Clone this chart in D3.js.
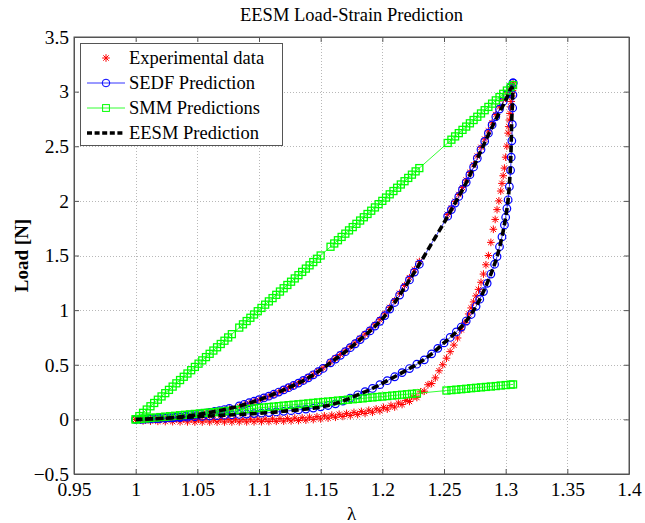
<!DOCTYPE html>
<html><head><meta charset="utf-8">
<script src="https://cdn.jsdelivr.net/npm/d3@7"></script>
<style>
body{margin:0;background:#fff}
svg{display:block}
text{font-family:"Liberation Serif","Times New Roman",serif;fill:#000}
</style>
</head><body>
<svg id="c" width="645" height="523"></svg>
<script>
// ---------------- data ----------------
const title = "EESM Load-Strain Prediction";
const xLabel = "λ";
const yLabel = "Load [N]";
const xTicks = [0.95,1,1.05,1.1,1.15,1.2,1.25,1.3,1.35,1.4];
const xTickLabels = ["0.95","1","1.05","1.1","1.15","1.2","1.25","1.3","1.35","1.4"];
const yTicks = [-0.5,0,0.5,1,1.5,2,2.5,3,3.5];
const yTickLabels = ["\u22120.5","0","0.5","1","1.5","2","2.5","3","3.5"];
const seriesNames = ["Experimental data","SEDF Prediction","SMM Predictions","EESM Prediction"];

// loading branch stretch values (experimental and SEDF)
const lamUp = [1.000,1.004,1.008,1.012,1.016,1.020,1.024,1.028,1.032,1.036,1.040,1.044,1.048,1.052,1.056,1.060,1.064,1.068,1.072,1.076,
  1.084,1.088,1.092,1.096,1.100,1.104,1.108,1.112,1.116,1.120,1.124,1.128,1.132,1.136,1.140,1.144,1.148,1.152,
  1.158,1.162,1.166,1.170,1.174,1.178,1.182,1.186,1.190,1.194,1.198,1.202,1.206,1.210,1.214,1.218,1.222,1.226,1.230,
  1.253,1.256,1.259,1.262,1.265,1.268,1.271,1.274,1.277,1.280,1.283,1.286,1.289,1.292,1.295,1.298,1.301,1.304,1.306];
const expUp = [0,-0.003,-0.004,-0.003,-0.002,0.000,0.003,0.006,0.010,0.014,0.019,0.025,0.032,0.039,0.047,0.055,0.064,0.073,0.083,0.094,
  0.118,0.132,0.147,0.162,0.177,0.194,0.211,0.229,0.249,0.270,0.291,0.312,0.335,0.359,0.384,0.412,0.441,0.471,
  0.525,0.560,0.594,0.628,0.665,0.700,0.740,0.780,0.822,0.866,0.912,0.965,1.025,1.087,1.155,1.225,1.297,1.370,1.445,
  1.875,1.935,1.995,2.058,2.122,2.190,2.260,2.330,2.410,2.490,2.565,2.640,2.715,2.790,2.860,2.930,2.990,3.045,3.080];
const sedfUp = [0,0.001,0.002,0.004,0.006,0.008,0.011,0.015,0.019,0.023,0.028,0.035,0.042,0.049,0.056,0.063,0.072,0.080,0.090,0.100,
  0.124,0.138,0.152,0.166,0.180,0.196,0.212,0.230,0.250,0.270,0.290,0.310,0.332,0.356,0.380,0.408,0.436,0.466,
  0.518,0.552,0.586,0.620,0.656,0.692,0.730,0.770,0.810,0.854,0.898,0.950,1.010,1.070,1.138,1.206,1.276,1.348,1.420,
  1.860,1.920,1.980,2.040,2.105,2.170,2.240,2.310,2.390,2.470,2.545,2.620,2.695,2.770,2.840,2.910,2.975,3.040,3.080];

// experimental unloading branch
const expLamDown = [1.000,1.003,1.006,1.009,1.012,1.015,1.018,1.021,1.024,1.027,1.030,1.033,1.036,1.039,1.042,1.045,1.048,1.051,1.054,1.057,
  1.060,1.063,1.066,1.069,1.072,1.075,1.078,1.081,1.084,1.087,1.090,1.093,1.096,1.099,1.102,1.105,1.108,1.111,1.114,1.117,
  1.120,1.123,1.126,1.129,1.132,1.135,1.138,1.141,1.144,1.147,1.150,1.153,1.156,1.159,1.162,1.165,1.168,1.171,1.174,1.177,
  1.180,1.183,1.186,1.189,1.192,1.195,1.198,1.201,1.204,1.207,1.210,1.213,1.216,1.219,1.222,1.225,1.228,1.231,1.234,1.237,1.240,
  1.243,1.246,1.249,1.252,1.255,1.258,1.261,1.264,1.267,1.270,1.272,1.274,1.276,1.278,1.280,1.282,1.284,1.286,1.288,1.290,
  1.2915,1.293,1.2945,1.296,1.297,1.298,1.299,1.300,1.301,1.302,1.3025,1.303,1.3035,1.304,1.3045,1.305,1.3055,1.306];
const expDown = [0,0.011,-0.014,0.009,-0.016,0.007,-0.018,0.005,-0.020,0.004,-0.021,0.003,-0.022,0.002,-0.023,0.001,-0.024,0.000,-0.024,0.000,
  -0.024,0.000,-0.024,0.000,-0.024,0.000,-0.024,0.001,-0.023,0.001,-0.023,0.002,-0.022,0.003,-0.021,0.004,-0.020,0.005,-0.018,0.007,
  -0.016,0.009,-0.014,0.012,-0.011,0.015,-0.007,0.020,-0.002,0.025,0.004,0.032,0.011,0.039,0.019,0.047,0.027,0.055,0.035,0.064,
  0.044,0.073,0.054,0.084,0.065,0.096,0.078,0.110,0.094,0.128,0.113,0.149,0.136,0.174,0.164,0.206,0.200,0.252,0.258,0.317,0.328,
  0.380,0.445,0.500,0.560,0.620,0.680,0.745,0.820,0.885,0.965,1.020,1.075,1.130,1.190,1.255,1.330,1.415,1.500,1.620,1.740,
  1.830,1.920,2.000,2.090,2.160,2.230,2.300,2.400,2.500,2.620,2.680,2.740,2.800,2.860,2.910,2.960,3.010,3.060];

// SEDF unloading branch
const lamDown = [1.000,1.006,1.012,1.018,1.024,1.030,1.036,1.042,1.048,1.054,1.060,1.066,1.072,1.078,1.084,1.090,1.096,1.102,1.108,1.114,
  1.120,1.126,1.132,1.138,1.144,1.150,1.156,1.162,1.168,1.174,1.180,1.186,1.192,1.198,1.204,1.210,1.216,1.222,1.228,1.234,
  1.240,1.245,1.250,1.255,1.260,1.264,1.268,1.272,1.276,1.279,1.282,1.285,1.288,1.291,1.293,1.295,1.297,1.299,1.300,1.301,
  1.302,1.303,1.304,1.3045,1.305,1.3054,1.3057,1.3059,1.306];
const sedfDown = [0,0.002,0.005,0.008,0.011,0.014,0.017,0.020,0.024,0.027,0.031,0.034,0.038,0.041,0.045,0.049,0.053,0.057,0.062,0.068,
  0.074,0.080,0.087,0.094,0.103,0.115,0.127,0.142,0.168,0.195,0.225,0.253,0.283,0.318,0.354,0.390,0.428,0.465,0.505,0.545,
  0.600,0.650,0.700,0.750,0.800,0.845,0.900,0.960,1.035,1.100,1.170,1.245,1.330,1.420,1.490,1.580,1.670,1.780,1.850,1.930,
  2.010,2.130,2.280,2.400,2.550,2.700,2.850,2.970,3.080];

// SMM loading branch
const smmLamUp = [1.000,1.003,1.006,1.009,1.012,1.015,1.018,1.021,1.024,1.027,1.030,1.033,1.036,1.039,1.042,1.045,1.048,1.051,1.054,1.057,
  1.060,1.063,1.066,1.069,1.072,1.075,1.078,
  1.084,1.087,1.090,1.093,1.096,1.099,1.102,1.105,1.108,1.111,1.114,1.117,1.120,1.123,1.126,1.129,1.132,1.135,1.138,1.141,1.144,1.147,1.150,
  1.158,1.161,1.164,1.167,1.170,1.173,1.176,1.179,1.182,1.185,1.188,1.191,1.194,1.197,1.200,1.203,1.206,1.209,1.212,1.215,1.218,1.221,1.224,1.227,1.230,
  1.253,1.256,1.259,1.262,1.265,1.268,1.271,1.274,1.277,1.280,1.283,1.286,1.289,1.292,1.295,1.298,1.301,1.304,1.306];
const smmUp = [0,0.03,0.06,0.09,0.12,0.15,0.18,0.21,0.24,0.27,0.30,0.33,0.36,0.39,0.42,0.45,0.48,0.51,0.54,0.57,
  0.60,0.63,0.66,0.69,0.72,0.75,0.78,
  0.84,0.87,0.90,0.93,0.96,0.99,1.02,1.05,1.08,1.11,1.14,1.17,1.20,1.23,1.26,1.29,1.32,1.35,1.38,1.41,1.44,1.47,1.50,
  1.58,1.61,1.64,1.67,1.70,1.73,1.76,1.79,1.82,1.85,1.88,1.91,1.94,1.97,2.00,2.03,2.06,2.09,2.12,2.15,2.18,2.21,2.24,2.27,2.30,
  2.53,2.56,2.59,2.62,2.65,2.68,2.71,2.74,2.77,2.80,2.83,2.86,2.89,2.92,2.95,2.98,3.01,3.04,3.06];

// SMM unloading branch
const smmLamDown = [1.000,1.004,1.008,1.012,1.016,1.020,1.024,1.028,1.032,1.036,1.040,1.044,1.048,1.052,1.056,1.060,1.064,1.068,1.072,1.076,
  1.080,1.084,1.088,1.092,1.096,1.100,1.104,1.108,1.112,1.116,1.120,1.124,1.128,1.132,1.136,1.140,1.144,1.148,1.152,1.156,
  1.160,1.164,1.168,1.172,1.176,1.180,1.184,1.188,1.192,1.196,1.200,1.204,1.208,1.212,1.216,1.220,1.224,1.228,
  1.252,1.256,1.260,1.264,1.268,1.272,1.276,1.280,1.284,1.288,1.292,1.296,1.300,1.304,1.306];
const smmDown = [0,0.004,0.008,0.013,0.017,0.021,0.025,0.029,0.033,0.038,0.042,0.046,0.050,0.054,0.059,0.063,0.067,0.071,0.075,0.079,
  0.084,0.088,0.092,0.096,0.100,0.105,0.109,0.113,0.117,0.121,0.126,0.130,0.134,0.138,0.142,0.146,0.151,0.155,0.159,0.163,
  0.167,0.172,0.176,0.180,0.184,0.188,0.192,0.197,0.201,0.205,0.209,0.213,0.218,0.222,0.226,0.230,0.234,0.238,
  0.264,0.268,0.272,0.276,0.280,0.285,0.289,0.293,0.297,0.301,0.305,0.310,0.314,0.318,0.320];

// EESM prediction
const eesmLamUp = [1.000,1.020,1.040,1.060,1.080,1.100,1.120,1.140,1.160,1.180,1.200,1.210,1.220,1.230,1.240,1.250,1.260,1.270,1.280,1.290,1.300,1.305];
const eesmUp = [0,0.008,0.028,0.063,0.110,0.180,0.270,0.380,0.535,0.710,0.920,1.070,1.240,1.420,1.610,1.800,2.000,2.210,2.460,2.700,2.920,3.040];
const eesmLamDown = [1.305,1.3048,1.304,1.303,1.302,1.300,1.297,1.293,1.288,1.282,1.276,1.268,1.260,1.250,1.240,1.228,1.216,1.204,1.192,1.180,1.168,1.156,1.144,1.120,1.100,1.080,1.060,1.040,1.020,1.000];
const eesmDown = [3.040,2.700,2.350,2.150,2.010,1.850,1.670,1.490,1.330,1.170,1.035,0.900,0.800,0.700,0.600,0.505,0.428,0.354,0.283,0.225,0.168,0.127,0.103,0.074,0.055,0.043,0.031,0.019,0.008,0];

// ---------------- chart ----------------
const W = 645, H = 523;
const L = 74, R = 629, T = 37, B = 474;
const x = d3.scaleLinear().domain([0.95, 1.4]).range([L, R]);
const y = d3.scaleLinear().domain([-0.5, 3.5]).range([B, T]);
const zip = (a, b) => a.map((v, i) => [v, b[i]]);

const svg = d3.select('#c');
svg.append('rect').attr('width', W).attr('height', H).attr('fill', '#fff');
svg.append('defs').append('clipPath').attr('id', 'clip')
  .append('rect').attr('x', L).attr('y', T).attr('width', R - L).attr('height', B - T);

// grid
const grid = svg.append('g').attr('stroke', '#b8b8b8').attr('stroke-width', 1).attr('stroke-dasharray', '1,2');
grid.selectAll('.gx').data(xTicks.slice(1, -1)).join('line')
  .attr('x1', d => Math.round(x(d)) + 0.5).attr('x2', d => Math.round(x(d)) + 0.5).attr('y1', T).attr('y2', B);
grid.selectAll('.gy').data(yTicks.slice(1, -1)).join('line')
  .attr('y1', d => Math.round(y(d)) + 0.5).attr('y2', d => Math.round(y(d)) + 0.5).attr('x1', L).attr('x2', R);

// axes
const axisColor = '#555';
const fx = (d) => xTickLabels[xTicks.indexOf(d)];
const fy = (d) => yTickLabels[yTicks.indexOf(d)];
const gB = svg.append('g').attr('transform', `translate(0,${B})`)
  .call(d3.axisBottom(x).tickValues(xTicks).tickFormat(fx).tickSizeInner(-5).tickSizeOuter(0).tickPadding(8));
const gLft = svg.append('g').attr('transform', `translate(${L},0)`)
  .call(d3.axisLeft(y).tickValues(yTicks).tickFormat(fy).tickSizeInner(-5).tickSizeOuter(0).tickPadding(5));
const gTop = svg.append('g').attr('transform', `translate(0,${T})`)
  .call(d3.axisTop(x).tickValues(xTicks).tickFormat('').tickSizeInner(-5).tickSizeOuter(0));
const gRgt = svg.append('g').attr('transform', `translate(${R},0)`)
  .call(d3.axisRight(y).tickValues(yTicks).tickFormat('').tickSizeInner(-5).tickSizeOuter(0));
[gB, gLft, gTop, gRgt].forEach(g => {
  g.selectAll('path.domain').attr('stroke', axisColor);
  g.selectAll('.tick line').attr('stroke', axisColor);
  g.selectAll('.tick text').attr('font-family', '"Liberation Serif",serif').attr('font-size', 19.5).attr('fill', '#000');
});

// series
const plot = svg.append('g').attr('clip-path', 'url(#clip)');
const star = 'M-3.8,0H3.8M0,-3.8V3.8M-2.7,-2.7L2.7,2.7M-2.7,2.7L2.7,-2.7';

// experimental
const expPts = zip(lamUp, expUp).concat(zip(expLamDown, expDown));
plot.append('g').selectAll('path').data(expPts).join('path')
  .attr('transform', d => `translate(${x(d[0])},${y(d[1])})`)
  .attr('d', star).attr('stroke', '#ff0000').attr('stroke-width', 1).attr('fill', 'none');

// SEDF
const line = d3.line().x(d => x(d[0])).y(d => y(d[1]));
const sedfU = zip(lamUp, sedfUp), sedfD = zip(lamDown, sedfDown);
[sedfU, sedfD].forEach(p => plot.append('path').attr('d', line(p)).attr('fill', 'none').attr('stroke', '#0000ff').attr('stroke-width', 0.8));
plot.append('g').selectAll('circle').data(sedfU.concat(sedfD)).join('circle')
  .attr('cx', d => x(d[0])).attr('cy', d => y(d[1])).attr('r', 3.8)
  .attr('fill', 'none').attr('stroke', '#0000ff').attr('stroke-width', 1.2);

// SMM
const smmU = zip(smmLamUp, smmUp), smmD = zip(smmLamDown, smmDown);
[smmU, smmD].forEach(p => plot.append('path').attr('d', line(p)).attr('fill', 'none').attr('stroke', '#00ff00').attr('stroke-width', 0.8));
plot.append('g').selectAll('rect').data(smmU.concat(smmD)).join('rect')
  .attr('x', d => x(d[0]) - 3.5).attr('y', d => y(d[1]) - 3.5).attr('width', 7).attr('height', 7)
  .attr('fill', 'none').attr('stroke', '#00ff00').attr('stroke-width', 1.3);

// EESM
const eesmPts = zip(eesmLamUp, eesmUp).concat(zip(eesmLamDown, eesmDown).slice(1));
plot.append('path').attr('d', d3.line().x(d => x(d[0])).y(d => y(d[1])).curve(d3.curveCatmullRom.alpha(0.5))(eesmPts))
  .attr('fill', 'none').attr('stroke', '#000').attr('stroke-width', 3.6).attr('stroke-dasharray', '7,3.5');

// box on top
svg.append('rect').attr('x', L).attr('y', T).attr('width', R - L).attr('height', B - T)
  .attr('fill', 'none').attr('stroke', axisColor).attr('stroke-width', 1);

// title & labels
svg.append('text').attr('x', (L + R) / 2).attr('y', 21).attr('text-anchor', 'middle')
  .attr('font-size', 18.5).text(title);
svg.append('text').attr('x', (L + R) / 2).attr('y', 520).attr('text-anchor', 'middle')
  .attr('font-size', 19).text(xLabel);
svg.append('text').attr('transform', `translate(28,${(T + B) / 2}) rotate(-90)`).attr('text-anchor', 'middle')
  .attr('font-size', 19).attr('font-weight', 'bold').text(yLabel);

// legend
const lg = svg.append('g');
lg.append('rect').attr('x', 80.5).attr('y', 43.5).attr('width', 202).attr('height', 102)
  .attr('fill', '#fff').attr('stroke', axisColor).attr('stroke-width', 1);
const rowY = [58, 83, 108, 133];
seriesNames.forEach((name, i) => {
  const yy = rowY[i];
  if (i === 0) {
    lg.append('path').attr('transform', `translate(106,${yy})`).attr('d', star)
      .attr('stroke', '#ff0000').attr('stroke-width', 1).attr('fill', 'none');
  } else if (i === 1) {
    lg.append('line').attr('x1', 87).attr('x2', 125).attr('y1', yy).attr('y2', yy).attr('stroke', '#0000ff').attr('stroke-width', 0.8);
    lg.append('circle').attr('cx', 106).attr('cy', yy).attr('r', 3.8).attr('fill', 'none').attr('stroke', '#0000ff').attr('stroke-width', 1);
  } else if (i === 2) {
    lg.append('line').attr('x1', 87).attr('x2', 125).attr('y1', yy).attr('y2', yy).attr('stroke', '#00ff00').attr('stroke-width', 0.8);
    lg.append('rect').attr('x', 102.6).attr('y', yy - 3.4).attr('width', 6.8).attr('height', 6.8).attr('fill', 'none').attr('stroke', '#00ff00').attr('stroke-width', 1);
  } else {
    lg.append('line').attr('x1', 87).attr('x2', 125).attr('y1', yy).attr('y2', yy).attr('stroke', '#000').attr('stroke-width', 3.6).attr('stroke-dasharray', '5,2.6');
  }
  lg.append('text').attr('x', 129).attr('y', yy + 6).attr('font-size', 18.5).text(name);
});
</script>
</body></html>
